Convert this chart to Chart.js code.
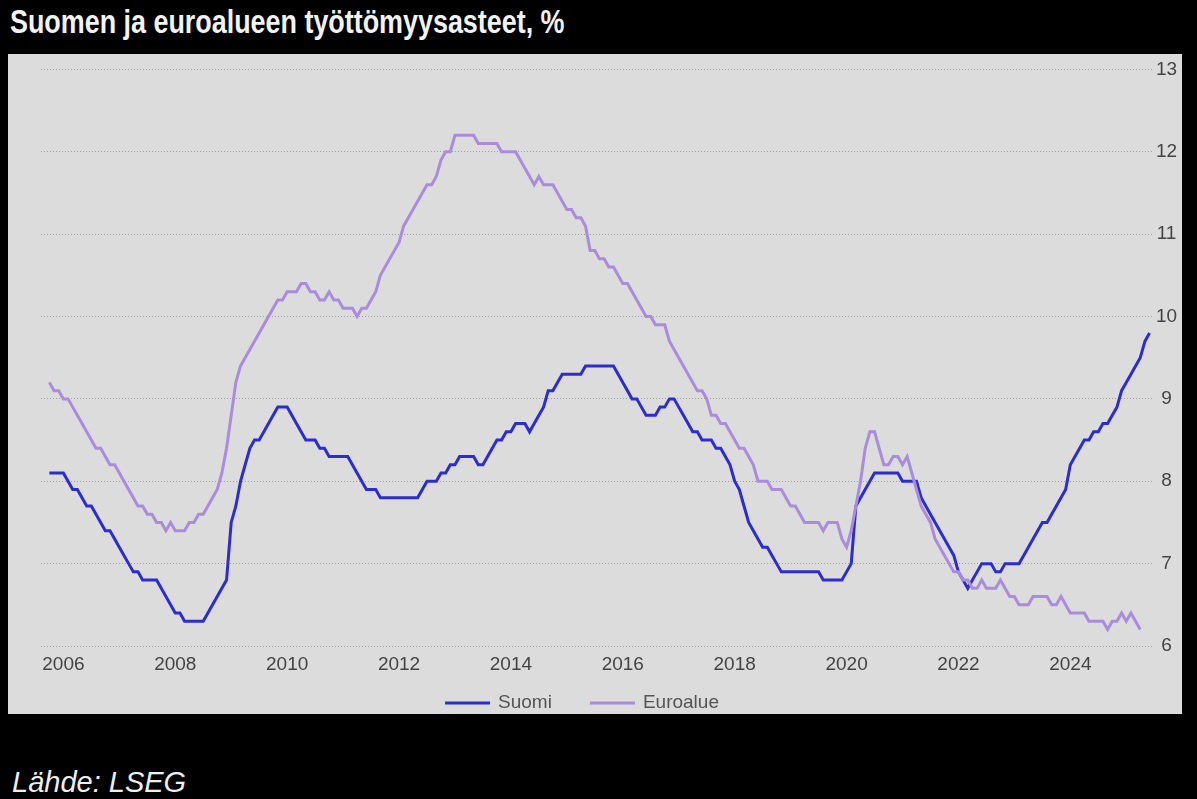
<!DOCTYPE html>
<html lang="fi">
<head>
<meta charset="utf-8">
<title>Suomen ja euroalueen työttömyysasteet</title>
<script src="https://cdn.jsdelivr.net/npm/chart.js@4.4.1/dist/chart.umd.min.js"></script>
<style>
  html, body { margin: 0; padding: 0; background: #000; }
  body { width: 1197px; height: 799px; position: relative; overflow: hidden; }
  #title {
    position: absolute; left: 10px; top: 5px; line-height: 33px;
    color: #f2f2f2; font-weight: bold; font-size: 33px; white-space: nowrap;
    font-family: "Liberation Sans", Arial, sans-serif;
    transform: scaleX(0.815); transform-origin: 0 0;
  }
  #panel { position: absolute; left: 8px; top: 54px; width: 1174px; height: 660px; background: #dcdcdc; }
  #source {
    position: absolute; left: 12px; top: 768px; line-height: 29px;
    color: #eeeeee; font-style: italic; font-size: 29px;
    font-family: "Liberation Sans", Arial, sans-serif;
  }
</style>
</head>
<body>
<div id="title">Suomen ja euroalueen työttömyysasteet, %</div>
<div id="panel"><canvas id="chart"></canvas></div>
<div id="source">Lähde: LSEG</div>

<script>
// monthly series, first value = October 2005
const startYear = 2005;
const startMonth = 10;

const suomi = [
  8.1, 8.1, 8.1,                                                  // 2005 Oct-Dec
  8.1, 8.0, 7.9, 7.9, 7.8, 7.7, 7.7, 7.6, 7.5, 7.4, 7.4, 7.3,     // 2006
  7.2, 7.1, 7.0, 6.9, 6.9, 6.8, 6.8, 6.8, 6.8, 6.7, 6.6, 6.5,     // 2007
  6.4, 6.4, 6.3, 6.3, 6.3, 6.3, 6.3, 6.4, 6.5, 6.6, 6.7, 6.8,     // 2008
  7.5, 7.7, 8.0, 8.2, 8.4, 8.5, 8.5, 8.6, 8.7, 8.8, 8.9, 8.9,     // 2009
  8.9, 8.8, 8.7, 8.6, 8.5, 8.5, 8.5, 8.4, 8.4, 8.3, 8.3, 8.3,     // 2010
  8.3, 8.3, 8.2, 8.1, 8.0, 7.9, 7.9, 7.9, 7.8, 7.8, 7.8, 7.8,     // 2011
  7.8, 7.8, 7.8, 7.8, 7.8, 7.9, 8.0, 8.0, 8.0, 8.1, 8.1, 8.2,     // 2012
  8.2, 8.3, 8.3, 8.3, 8.3, 8.2, 8.2, 8.3, 8.4, 8.5, 8.5, 8.6,     // 2013
  8.6, 8.7, 8.7, 8.7, 8.6, 8.7, 8.8, 8.9, 9.1, 9.1, 9.2, 9.3,     // 2014
  9.3, 9.3, 9.3, 9.3, 9.4, 9.4, 9.4, 9.4, 9.4, 9.4, 9.4, 9.3,     // 2015
  9.2, 9.1, 9.0, 9.0, 8.9, 8.8, 8.8, 8.8, 8.9, 8.9, 9.0, 9.0,     // 2016
  8.9, 8.8, 8.7, 8.6, 8.6, 8.5, 8.5, 8.5, 8.4, 8.4, 8.3, 8.2,     // 2017
  8.0, 7.9, 7.7, 7.5, 7.4, 7.3, 7.2, 7.2, 7.1, 7.0, 6.9, 6.9,     // 2018
  6.9, 6.9, 6.9, 6.9, 6.9, 6.9, 6.9, 6.8, 6.8, 6.8, 6.8, 6.8,     // 2019
  6.9, 7.0, 7.7, 7.8, 7.9, 8.0, 8.1, 8.1, 8.1, 8.1, 8.1, 8.1,     // 2020
  8.0, 8.0, 8.0, 8.0, 7.8, 7.7, 7.6, 7.5, 7.4, 7.3, 7.2, 7.1,     // 2021
  6.9, 6.8, 6.7, 6.8, 6.9, 7.0, 7.0, 7.0, 6.9, 6.9, 7.0, 7.0,     // 2022
  7.0, 7.0, 7.1, 7.2, 7.3, 7.4, 7.5, 7.5, 7.6, 7.7, 7.8, 7.9,     // 2023
  8.2, 8.3, 8.4, 8.5, 8.5, 8.6, 8.6, 8.7, 8.7, 8.8, 8.9, 9.1,     // 2024
  9.2, 9.3, 9.4, 9.5, 9.7, 9.8                                    // 2025
];

const euroalue = [
  9.2, 9.1, 9.1,                                                        // 2005 Oct-Dec
  9.0, 9.0, 8.9, 8.8, 8.7, 8.6, 8.5, 8.4, 8.4, 8.3, 8.2, 8.2,           // 2006
  8.1, 8.0, 7.9, 7.8, 7.7, 7.7, 7.6, 7.6, 7.5, 7.5, 7.4, 7.5,           // 2007
  7.4, 7.4, 7.4, 7.5, 7.5, 7.6, 7.6, 7.7, 7.8, 7.9, 8.1, 8.4,           // 2008
  8.8, 9.2, 9.4, 9.5, 9.6, 9.7, 9.8, 9.9, 10.0, 10.1, 10.2, 10.2,       // 2009
  10.3, 10.3, 10.3, 10.4, 10.4, 10.3, 10.3, 10.2, 10.2, 10.3, 10.2, 10.2, // 2010
  10.1, 10.1, 10.1, 10.0, 10.1, 10.1, 10.2, 10.3, 10.5, 10.6, 10.7, 10.8, // 2011
  10.9, 11.1, 11.2, 11.3, 11.4, 11.5, 11.6, 11.6, 11.7, 11.9, 12.0, 12.0, // 2012
  12.2, 12.2, 12.2, 12.2, 12.2, 12.1, 12.1, 12.1, 12.1, 12.1, 12.0, 12.0, // 2013
  12.0, 12.0, 11.9, 11.8, 11.7, 11.6, 11.7, 11.6, 11.6, 11.6, 11.5, 11.4, // 2014
  11.3, 11.3, 11.2, 11.2, 11.1, 10.8, 10.8, 10.7, 10.7, 10.6, 10.6, 10.5, // 2015
  10.4, 10.4, 10.3, 10.2, 10.1, 10.0, 10.0, 9.9, 9.9, 9.9, 9.7, 9.6,    // 2016
  9.5, 9.4, 9.3, 9.2, 9.1, 9.1, 9.0, 8.8, 8.8, 8.7, 8.7, 8.6,           // 2017
  8.5, 8.4, 8.4, 8.3, 8.2, 8.0, 8.0, 8.0, 7.9, 7.9, 7.9, 7.8,           // 2018
  7.7, 7.7, 7.6, 7.5, 7.5, 7.5, 7.5, 7.4, 7.5, 7.5, 7.5, 7.3,           // 2019
  7.2, 7.4, 7.7, 8.0, 8.4, 8.6, 8.6, 8.4, 8.2, 8.2, 8.3, 8.3,           // 2020
  8.2, 8.3, 8.1, 7.9, 7.7, 7.6, 7.5, 7.3, 7.2, 7.1, 7.0, 6.9,           // 2021
  6.9, 6.8, 6.8, 6.7, 6.7, 6.8, 6.7, 6.7, 6.7, 6.8, 6.7, 6.6,           // 2022
  6.6, 6.5, 6.5, 6.5, 6.6, 6.6, 6.6, 6.6, 6.5, 6.5, 6.6, 6.5,           // 2023
  6.4, 6.4, 6.4, 6.4, 6.3, 6.3, 6.3, 6.3, 6.2, 6.3, 6.3, 6.4,           // 2024
  6.3, 6.4, 6.3, 6.2                                                    // 2025
];

const yearTicks = [2006, 2008, 2010, 2012, 2014, 2016, 2018, 2020, 2022, 2024];
const valueTicks = [6, 7, 8, 9, 10, 11, 12, 13];

const suomiColor = '#2c2cd0';
const euroColor = '#a88ddc';
const fontFamily = '"Liberation Sans", Arial, sans-serif';

// month positions as decimal years
function toPoints(values) {
  return values.map((v, i) => ({ x: startYear + (startMonth - 1 + i) / 12, y: v }));
}

const bottomLegend = {
  id: 'bottomLegend',
  afterDraw(chart) {
    const c = chart.ctx;
    const lineLen = 45, gap = 8, spacing = 38;
    const y = chart.height - 11;
    c.save();
    c.font = `19px ${fontFamily}`;
    c.textBaseline = 'middle';
    const items = chart.data.datasets.map(ds => ({
      text: ds.label, color: ds.borderColor, lw: ds.borderWidth, w: c.measureText(ds.label).width
    }));
    const total = items.reduce((s, it, i) => s + lineLen + gap + it.w + (i ? spacing : 0), 0);
    let x = 574 - total / 2;
    items.forEach(it => {
      c.strokeStyle = it.color;
      c.lineWidth = it.lw;
      c.beginPath();
      c.moveTo(x, y);
      c.lineTo(x + lineLen, y);
      c.stroke();
      x += lineLen + gap;
      c.fillStyle = '#555';
      c.fillText(it.text, x, y);
      x += it.w + spacing;
    });
    c.restore();
  }
};

new Chart(document.getElementById('chart'), {
  type: 'line',
  data: {
    datasets: [
      { label: 'Suomi', data: toPoints(suomi), borderColor: suomiColor, borderWidth: 3,
        pointRadius: 0, tension: 0, order: 1 },
      { label: 'Euroalue', data: toPoints(euroalue), borderColor: euroColor, borderWidth: 3,
        pointRadius: 0, tension: 0, order: 0 }
    ]
  },
  options: {
    responsive: true,
    maintainAspectRatio: false,
    animation: false,
    layout: { padding: { left: 33, top: 12, right: 0, bottom: 28 } },
    plugins: { legend: { display: false }, tooltip: { enabled: false } },
    scales: {
      x: {
        type: 'linear',
        min: 2005.6,
        max: 2025.46,
        grid: { display: false },
        border: { display: false },
        afterBuildTicks: s => { s.ticks = yearTicks.map(v => ({ value: v })); },
        afterFit: s => { s.height = 40; },
        ticks: {
          color: '#444', padding: -1, maxRotation: 0, autoSkip: false,
          font: { family: fontFamily, size: 19 },
          callback: v => String(v)
        }
      },
      y: {
        position: 'right',
        min: 6,
        max: 13,
        afterBuildTicks: s => { s.ticks = valueTicks.map(v => ({ value: v })); },
        afterFit: s => { s.width = 30; },
        grid: { color: '#9e9e9e', lineWidth: 1, drawTicks: false },
        border: { display: false, dash: [1, 2] },
        ticks: {
          color: '#444', padding: 4, crossAlign: 'center',
          font: { family: fontFamily, size: 19 },
          callback: v => String(v)
        }
      }
    }
  },
  plugins: [bottomLegend]
});
</script>
</body>
</html>
